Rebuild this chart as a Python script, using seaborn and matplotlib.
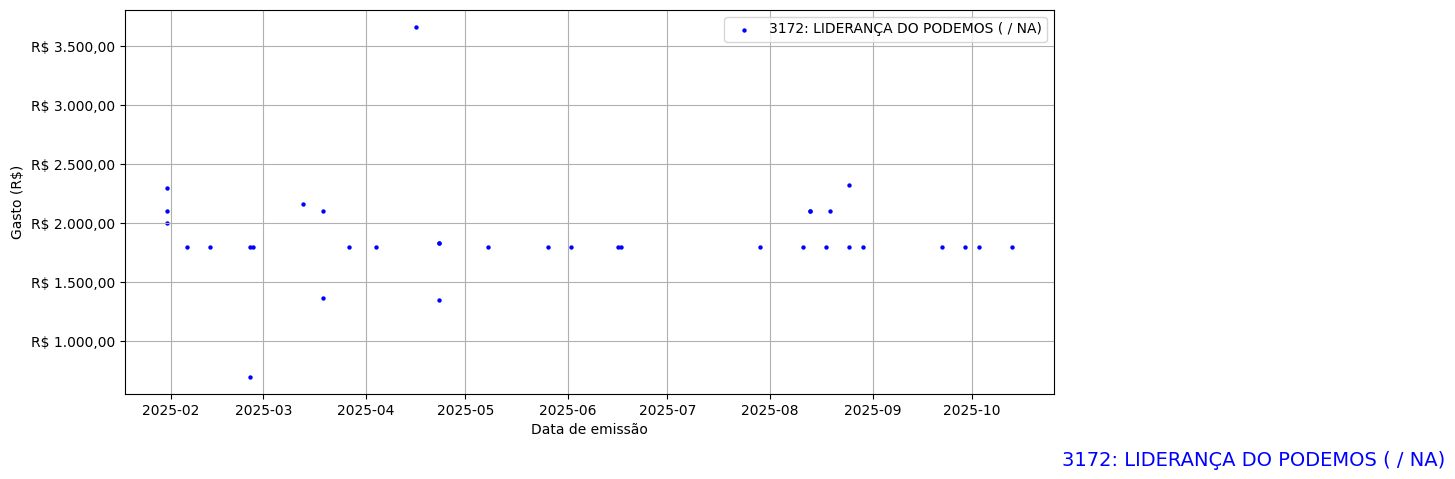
import matplotlib
matplotlib.use("Agg")
import matplotlib.pyplot as plt
import matplotlib.ticker as mticker
import matplotlib.dates as mdates
import seaborn as sns
import pandas as pd

label = "3172: LIDERANÇA DO PODEMOS ( / NA)"

dates = [
    "2025-01-31", "2025-01-31", "2025-01-31", "2025-02-06", "2025-02-13",
    "2025-02-25", "2025-02-26", "2025-02-25", "2025-03-13", "2025-03-19",
    "2025-03-19", "2025-03-27", "2025-04-04", "2025-04-16", "2025-04-23",
    "2025-04-23", "2025-04-23", "2025-05-08", "2025-05-26", "2025-06-02",
    "2025-06-16", "2025-06-17", "2025-07-29", "2025-08-11", "2025-08-13",
    "2025-08-13", "2025-08-18", "2025-08-19", "2025-08-25", "2025-08-25",
    "2025-08-29", "2025-09-22", "2025-09-29", "2025-10-03", "2025-10-13",
]
values = [
    2300, 2100, 2000, 1800, 1800,
    1800, 1800, 700, 2160, 2100,
    1365, 1800, 1800, 3660, 1830,
    1830, 1345, 1800, 1800, 1800,
    1800, 1800, 1800, 1800, 2100,
    2100, 1800, 2100, 2320, 1800,
    1800, 1800, 1800, 1800, 1800,
]

df = pd.DataFrame({"data": pd.to_datetime(dates), "gasto": values})

fig = plt.figure(figsize=(14.55, 4.79), dpi=100)
ax = fig.add_axes([125 / 1455, 85 / 479, (1054 - 125) / 1455, (394 - 10) / 479])

sns.scatterplot(data=df, x="data", y="gasto", ax=ax, color="blue", s=10,
                linewidth=0, label=label)

ax.grid(True, color="#b0b0b0", linewidth=0.8)
ax.set_xlabel("Data de emissão")
ax.set_ylabel("Gasto (R$)")


def brl(v, pos):
    s = f"{v:,.2f}"
    s = s.replace(",", "X").replace(".", ",").replace("X", ".")
    return f"R$ {s}"


ax.yaxis.set_major_formatter(mticker.FuncFormatter(brl))
ax.xaxis.set_major_locator(mdates.MonthLocator())
ax.xaxis.set_major_formatter(mdates.DateFormatter("%Y-%m"))
ax.legend(loc="upper right")

fig.text(1445 / 1455, 13.5 / 479, label, color="blue", fontsize=14,
         ha="right", va="baseline")

fig.savefig("out.png", dpi=100)
